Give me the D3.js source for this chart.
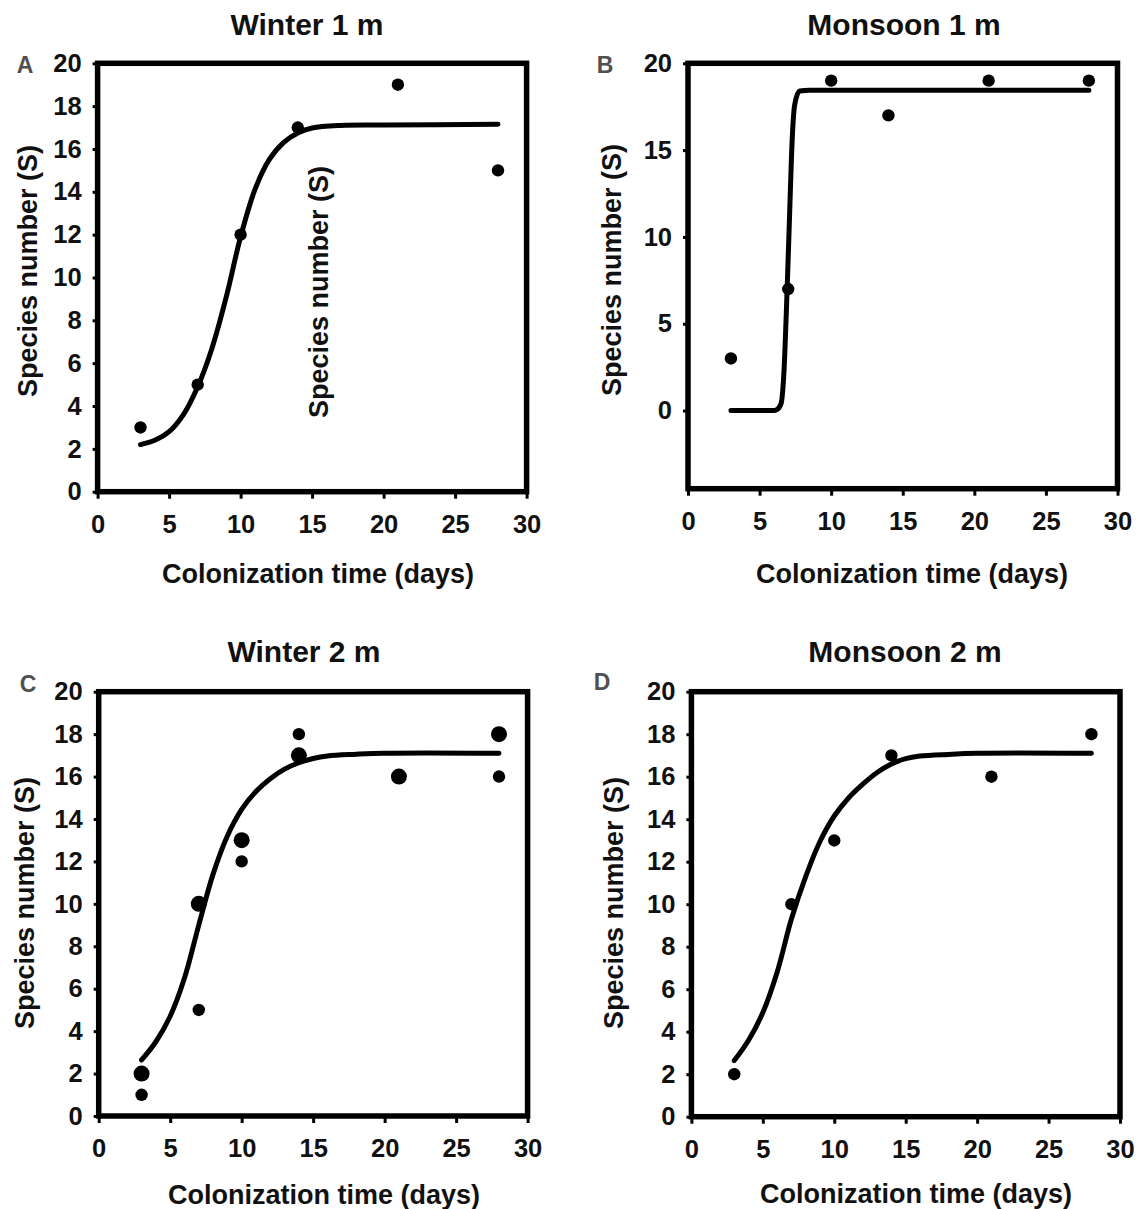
<!DOCTYPE html>
<html>
<head>
<meta charset="utf-8">
<script src="https://cdn.jsdelivr.net/npm/d3@7"></script>
<style>
  html, body { margin: 0; padding: 0; background: #ffffff; }
  svg { display: block; }
  text { font-family: "Liberation Sans", Arial, sans-serif; font-weight: bold; }
</style>
</head>
<body>
<script>
// ---------------- DATA ----------------
const panelTitles = ["Winter 1 m", "Monsoon 1 m", "Winter 2 m", "Monsoon 2 m"];
const panelLetters = ["A", "B", "C", "D"];
const xTickValues = [0, 5, 10, 15, 20, 25, 30];
const yTicksEvenTwo = [0, 2, 4, 6, 8, 10, 12, 14, 16, 18, 20];
const yTicksByFive = [0, 5, 10, 15, 20];
const xAxisTitle = "Colonization time (days)";
const yAxisTitle = "Species number (S)";

// Observed species numbers
const winter1mDays = [3, 7, 10, 14, 21, 28];
const winter1mSpecies = [3, 5, 12, 17, 19, 15];

const monsoon1mDays = [3, 7, 10, 14, 21, 28];
const monsoon1mSpecies = [3, 7, 19, 17, 19, 19];

const winter2mDays = [3, 3, 7, 7, 10, 10, 14, 14, 21, 28, 28];
const winter2mSpecies = [2, 1, 10, 5, 13, 12, 18, 17, 16, 18, 16];
const winter2mReplicates = [2, 1, 2, 1, 2, 1, 1, 2, 2, 2, 1]; // overlapping observations

const monsoon2mDays = [3, 7, 10, 14, 21, 28];
const monsoon2mSpecies = [2, 10, 13, 17, 16, 18];

// Fitted colonization curves
const winter1mFitDays = [3, 4, 5, 6, 7, 8, 9, 10, 11, 12, 13, 14, 15, 17, 20, 28];
const winter1mFitS    = [2.2, 2.4, 2.8, 3.6, 4.9, 6.7, 9.1, 11.9, 14.1, 15.5, 16.3, 16.75, 16.98, 17.1, 17.12, 17.15];

const monsoon1mFitDays = [3, 6.0, 6.2, 6.5, 6.7, 6.9, 7.05, 7.3, 7.45, 7.8, 8.5, 28];
const monsoon1mFitS    = [0, 0, 0.05, 0.4, 2.2, 6.4, 10.1, 16.0, 17.6, 18.4, 18.45, 18.45];

const winter2mFitDays = [3, 4, 5, 6, 7, 8, 9, 10, 11, 12, 13, 14, 15, 16, 18, 20, 28];
const winter2mFitS    = [2.64, 3.5, 4.7, 6.5, 9.0, 11.4, 13.2, 14.45, 15.3, 15.9, 16.35, 16.65, 16.85, 16.97, 17.05, 17.1, 17.1];

const monsoon2mFitDays = [3, 4, 5, 6, 7, 8, 9, 10, 11, 12, 13, 14, 15, 16, 18, 20, 28];
const monsoon2mFitS    = [2.64, 3.6, 4.9, 6.8, 9.3, 11.3, 12.95, 14.15, 15.0, 15.65, 16.2, 16.6, 16.85, 16.97, 17.05, 17.1, 17.1];

// ---------------- LAYOUT ----------------
const W = 1137, H = 1209;
const panels = [
  { title: panelTitles[0], letter: panelLetters[0], x0: 97.6, x1: 526.6, y0: 63.3, y1: 491.7, yDomain: [0, 20], yTicks: yTicksEvenTwo,
    days: winter1mDays, species: winter1mSpecies, reps: null, fitDays: winter1mFitDays, fitS: winter1mFitS, step: false,
    titleX: 307, titleY: 35, letterX: 25, letterY: 73, yTitleX: 27, yTitleY: 271, xTitleX: 318, xTitleY: 583,
    stray: { x: 318, y: 292 } },
  { title: panelTitles[1], letter: panelLetters[1], x0: 688, x1: 1117.5, y0: 63.3, y1: 488.7, yDomain: [-4.5, 20], yTicks: yTicksByFive,
    days: monsoon1mDays, species: monsoon1mSpecies, reps: null, fitDays: monsoon1mFitDays, fitS: monsoon1mFitS, step: true,
    titleX: 904, titleY: 35, letterX: 605, letterY: 73, yTitleX: 611, yTitleY: 270, xTitleX: 912, xTitleY: 583 },
  { title: panelTitles[2], letter: panelLetters[2], x0: 98.7, x1: 527.6, y0: 691.7, y1: 1116, yDomain: [0, 20], yTicks: yTicksEvenTwo,
    days: winter2mDays, species: winter2mSpecies, reps: winter2mReplicates, fitDays: winter2mFitDays, fitS: winter2mFitS, step: false,
    titleX: 304, titleY: 662, letterX: 28, letterY: 692, yTitleX: 24, yTitleY: 903, xTitleX: 324, xTitleY: 1204 },
  { title: panelTitles[3], letter: panelLetters[3], x0: 691.4, x1: 1120, y0: 691.7, y1: 1116.7, yDomain: [0, 20], yTicks: yTicksEvenTwo,
    days: monsoon2mDays, species: monsoon2mSpecies, reps: null, fitDays: monsoon2mFitDays, fitS: monsoon2mFitS, step: false,
    titleX: 905, titleY: 662, letterX: 602, letterY: 690, yTitleX: 613, yTitleY: 903, xTitleX: 916, xTitleY: 1203 }
];

const svg = d3.select("body").append("svg").attr("width", W).attr("height", H);
svg.append("rect").attr("width", W).attr("height", H).attr("fill", "#fff");

panels.forEach(p => {
  const g = svg.append("g");
  const x = d3.scaleLinear().domain([0, 30]).range([p.x0, p.x1]);
  const y = d3.scaleLinear().domain(p.yDomain).range([p.y1, p.y0]);

  // Title
  g.append("text").attr("x", p.titleX).attr("y", p.titleY).attr("text-anchor", "middle")
    .attr("font-size", 30).attr("fill", "#111").text(p.title);
  // Panel letter
  g.append("text").attr("x", p.letterX).attr("y", p.letterY).attr("text-anchor", "middle")
    .attr("font-size", 23).attr("fill", "#505050").text(p.letter);

  // Axes
  const yAxis = d3.axisLeft(y).tickValues(p.yTicks).tickSize(5).tickPadding(11).tickFormat(d3.format("d"));
  const gy = g.append("g").attr("transform", `translate(${p.x0},0)`).call(yAxis);
  const xAxis = d3.axisBottom(x).tickValues(xTickValues).tickSize(7).tickPadding(16).tickFormat(d3.format("d"));
  const gx = g.append("g").attr("transform", `translate(0,${p.y1})`).call(xAxis);
  [gy, gx].forEach(a => {
    a.select(".domain").remove();
    a.selectAll(".tick line").attr("stroke", "#000").attr("stroke-width", 3);
    a.selectAll(".tick text").attr("fill", "#111").attr("font-size", 25.5)
      .attr("font-family", "'Liberation Sans', Arial, sans-serif").attr("font-weight", "bold");
  });

  // Frame
  g.append("rect").attr("x", p.x0).attr("y", p.y0).attr("width", p.x1 - p.x0).attr("height", p.y1 - p.y0)
    .attr("fill", "none").attr("stroke", "#000").attr("stroke-width", 5.5);

  // Axis titles
  g.append("text").attr("x", p.xTitleX).attr("y", p.xTitleY).attr("text-anchor", "middle")
    .attr("font-size", 27).attr("fill", "#111").text(xAxisTitle);
  g.append("text").attr("transform", `translate(${p.yTitleX + 10},${p.yTitleY}) rotate(-90)`).attr("text-anchor", "middle")
    .attr("font-size", 27).attr("fill", "#111").text(yAxisTitle);
  if (p.stray) {
    g.append("text").attr("transform", `translate(${p.stray.x + 10},${p.stray.y}) rotate(-90)`).attr("text-anchor", "middle")
      .attr("font-size", 27).attr("fill", "#111").text(yAxisTitle);
  }

  // Fitted curve
  const fit = p.fitDays.map((d, i) => [d, p.fitS[i]]);
  g.append("path").datum(fit)
    .attr("d", d3.line().x(d => x(d[0])).y(d => y(d[1]))
      .curve(p.step ? d3.curveMonotoneX : d3.curveCatmullRom.alpha(0.5)))
    .attr("fill", "none").attr("stroke", "#000").attr("stroke-width", 5).attr("stroke-linecap", "round");

  // Observed points
  const pts = p.days.map((d, i) => ({ d, s: p.species[i], n: p.reps ? p.reps[i] : 1 }));
  g.selectAll("circle.pt").data(pts).enter().append("circle").attr("class", "pt")
    .attr("cx", d => x(d.d)).attr("cy", d => y(d.s))
    .attr("r", d => d.n > 1 ? 8 : 6.2).attr("fill", "#000");
});
</script>
</body>
</html>
